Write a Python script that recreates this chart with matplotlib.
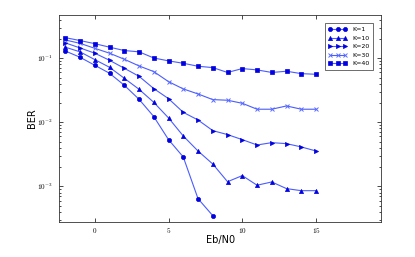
import matplotlib
matplotlib.use("Agg")
import matplotlib.pyplot as plt
from matplotlib.ticker import FuncFormatter, FixedLocator
import numpy as np

ebn0 = list(range(-2, 16))
ebn0_k1 = list(range(-2, 9))

ber_k1 = [0.130, 0.1037, 0.0778, 0.0583, 0.0379, 0.0229, 0.01228, 0.00536, 0.00287, 0.000641, 0.000348]
ber_k10 = [0.149, 0.126, 0.0953, 0.0723, 0.0487, 0.0328, 0.0205, 0.0117, 0.00611, 0.00356, 0.00223,
           0.00118, 0.00147, 0.00104, 0.00117, 0.00092, 0.000855, 0.000855]
ber_k20 = [0.174, 0.145, 0.120, 0.093, 0.0698, 0.0523, 0.0336, 0.0234, 0.0143, 0.01086, 0.00741,
           0.00642, 0.00536, 0.00442, 0.00481, 0.00464, 0.00412, 0.00356]
ber_k30 = [0.193, 0.171, 0.143, 0.120, 0.0965, 0.0759, 0.0619, 0.0431, 0.0332, 0.0277, 0.0226,
           0.0221, 0.0198, 0.0160, 0.0160, 0.0180, 0.0160, 0.0160]
ber_k40 = [0.210, 0.189, 0.169, 0.149, 0.132, 0.126, 0.101, 0.091, 0.0835, 0.075, 0.0715,
           0.060, 0.069, 0.0658, 0.060, 0.0627, 0.0575, 0.0562]

labels = ["K=1", "K=10", "K=20", "K=30", "K=40"]
markers = ["o", "^", ">", "x", "s"]

plt.rcParams['mathtext.fontset'] = 'cm'
fig = plt.figure(figsize=(4.15, 2.57), dpi=100)
ax = fig.add_axes([0.143, 0.136, 0.775, 0.806])

series = [(ebn0_k1, ber_k1), (ebn0, ber_k10), (ebn0, ber_k20), (ebn0, ber_k30), (ebn0, ber_k40)]
for (x, y), lab, m in zip(series, labels, markers):
    if m == 'x':
        ax.semilogy(x, y, color='#4a5cff', lw=0.8, marker=m, ms=3.2,
                    mfc='#5a6cff', mec='#5a6cff', mew=0.7, label=lab)
    else:
        ax.semilogy(x, y, color='#4a5cff', lw=0.8, marker=m, ms=3.0 if m != 's' else 3.3,
                    mfc='#0000e0', mec='#0000e0', mew=0.5, label=lab)

ax.set_xlim(-2.4, 19.4)
ax.set_ylim(10**-3.558, 10**-0.323)
ax.xaxis.set_major_locator(FixedLocator([0, 5, 10, 15]))
ax.xaxis.set_major_formatter(FuncFormatter(lambda v, p: f"${int(round(v))}$"))
ax.yaxis.set_major_formatter(FuncFormatter(lambda v, p: f"$10^{{{int(round(np.log10(v)))}}}$"))
ax.tick_params(which='both', direction='in', top=True, right=True, labelsize=5.2, width=0.5)
ax.tick_params(which='major', length=3)
ax.tick_params(axis='y', which='major', pad=4.5)
ax.tick_params(axis='x', which='major', pad=3.2)
ax.tick_params(which='minor', length=1.5)
for sp in ax.spines.values():
    sp.set_linewidth(0.6)
    sp.set_color('#333333')
ax.set_xlabel("Eb/N0", fontsize=7, labelpad=0)
ax.set_ylabel("BER", fontsize=7, labelpad=0.5)
leg = ax.legend(loc='upper right', fontsize=4.5, numpoints=3, fancybox=False,
                framealpha=1, edgecolor='#333333', handlelength=3, borderpad=0.6,
                labelspacing=0.5, bbox_to_anchor=(0.985, 0.975))
leg.get_frame().set_linewidth(0.5)
fig.savefig("out.png", dpi=100)
